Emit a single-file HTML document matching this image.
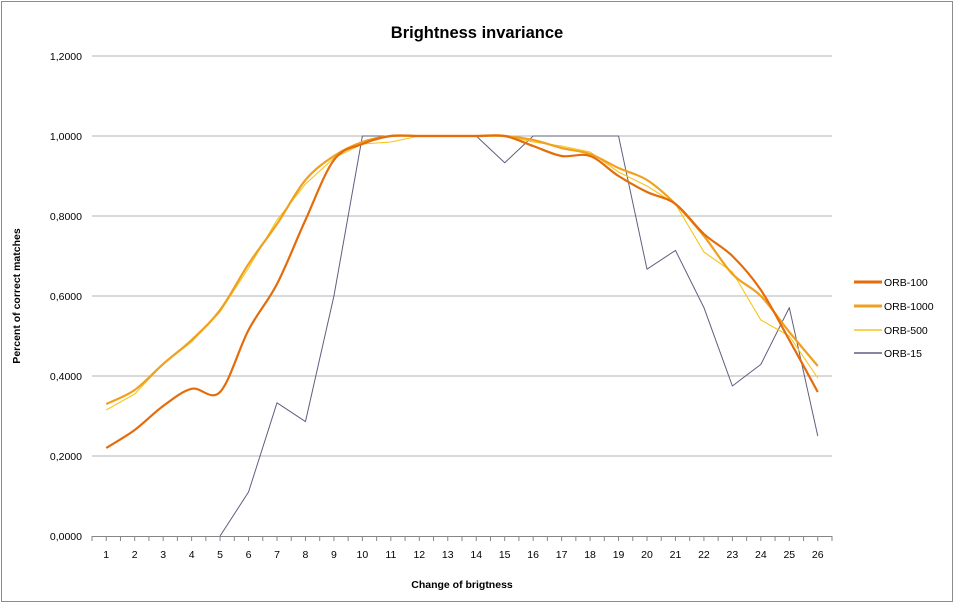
<!DOCTYPE html>
<html><head><meta charset="utf-8">
<style>
html,body{margin:0;padding:0;background:#fff;}
svg{display:block;font-family:"Liberation Sans",Arial,sans-serif;}
</style></head>
<body>
<svg id="chart" width="955" height="604" viewBox="0 0 955 604">
<rect x="1.5" y="1.5" width="951" height="600" fill="#fff" stroke="#8c8c8c"/>
<text x="477" y="38" text-anchor="middle" font-size="16.5" font-weight="bold" fill="#000">Brightness invariance</text>
<g id="grid"></g>
<g id="yticks"></g>
<g id="xaxis"></g>
<g id="series"></g>
<text x="20" y="296" text-anchor="middle" font-size="10.5" font-weight="bold" transform="rotate(-90 20 296)">Percent of correct matches</text>
<text x="462" y="588" text-anchor="middle" font-size="10.5" font-weight="bold">Change of brigtness</text>
<g id="legend"></g>
</svg>
<script>
const categories = [1,2,3,4,5,6,7,8,9,10,11,12,13,14,15,16,17,18,19,20,21,22,23,24,25,26];
const yTicks = [0,0.2,0.4,0.6,0.8,1.0,1.2];
const orb100 = [0.22,0.265,0.325,0.368,0.36,0.515,0.63,0.79,0.94,0.98,1.0,1.0,1.0,1.0,1.0,0.975,0.95,0.95,0.90,0.86,0.83,0.755,0.70,0.615,0.49,0.36];
const orb1000 = [0.33,0.365,0.43,0.49,0.565,0.68,0.78,0.89,0.95,0.985,1.0,1.0,1.0,1.0,1.0,0.99,0.97,0.955,0.92,0.89,0.83,0.75,0.655,0.60,0.51,0.425];
const orb500 = [0.315,0.355,0.43,0.485,0.56,0.67,0.79,0.88,0.945,0.98,0.985,1.0,1.0,1.0,1.0,0.985,0.975,0.96,0.91,0.875,0.83,0.71,0.66,0.54,0.50,0.395];
const orb15 = [null,null,null,null,0,0.11,0.333,0.286,0.6,1,1,1,1,1,0.933,1,1,1,1,0.667,0.714,0.571,0.375,0.429,0.571,0.25];
const seriesNames = ["ORB-100","ORB-1000","ORB-500","ORB-15"];

const NS="http://www.w3.org/2000/svg";
const L=92,R=832,T=56,B=536,yMax=1.2;
const step=(R-L)/categories.length;
function xS(i){return L+step*(i+0.5);}
function yS(v){return B-(v/yMax)*(B-T);}
function mk(tag,attrs,parent){const e=document.createElementNS(NS,tag);for(const k in attrs)e.setAttribute(k,attrs[k]);parent.appendChild(e);return e;}

const grid=document.getElementById('grid'), yt=document.getElementById('yticks');
yTicks.forEach(v=>{
  if(v>0){const g=mk('line',{x1:L,x2:R,y1:yS(v),y2:yS(v),stroke:'#b3b3b3','stroke-width':1},grid);
  
  }
  const t=mk('text',{x:82,y:yS(v)+4,'text-anchor':'end','font-size':10.5,fill:'#000'},yt);
  t.textContent=v.toFixed(4).replace('.',',');
  
  
});
const xa=document.getElementById('xaxis');
mk('line',{x1:L,x2:R,y1:B+0.5,y2:B+0.5,stroke:'#868686'},xa);
for(let k=0;k<=categories.length*2;k++){
  const x=L+k*step/2;
  mk('line',{x1:x,x2:x,y1:B,y2:B+5,stroke:'#868686'},xa);
}
categories.forEach((c,i)=>{
  const t=mk('text',{x:xS(i),y:B+22,'text-anchor':'middle','font-size':10.5},xa);
  t.textContent=c;
  
  
});

function smoothPath(vals){
  const p=vals.map((v,i)=>[xS(i),yS(v)]);
  let d='M'+p[0][0]+','+p[0][1];
  for(let i=0;i<p.length-1;i++){
    const p0=p[i-1]||p[i],p1=p[i],p2=p[i+1],p3=p[i+2]||p2;
    const c1=[p1[0]+(p2[0]-p0[0])/6,p1[1]+(p2[1]-p0[1])/6];
    const c2=[p2[0]-(p3[0]-p1[0])/6,p2[1]-(p3[1]-p1[1])/6];
    d+=' C'+c1+' '+c2+' '+p2;
  }
  return d;
}
function linePath(vals){
  let d='',pen=false;
  vals.forEach((v,i)=>{if(v===null){pen=false;return;}d+=(pen?' L':' M')+xS(i)+','+yS(v);pen=true;});
  return d;
}
const sg=document.getElementById('series');
const styles=[
  {vals:orb100,color:'#E46C0A',w:2.2,smooth:true,name:'series-orb-100'},
  {vals:orb1000,color:'#F0A020',w:2.2,smooth:true,name:'series-orb-1000'},
  {vals:orb500,color:'#F5C518',w:1.1,smooth:false,name:'series-orb-500'},
  {vals:orb15,color:'#5f5f80',w:1,smooth:false,name:'series-orb-15'}
];
[3,2,1,0].forEach(k=>{
  const s=styles[k];
  const p=mk('path',{d:s.smooth?smoothPath(s.vals):linePath(s.vals),fill:'none',stroke:s.color,'stroke-width':s.w,'stroke-linejoin':'round'},sg);
  
  
});
const lg=document.getElementById('legend');
const ly=[282,306,330,353];
styles.forEach((s,i)=>{
  mk('line',{x1:854,x2:882,y1:ly[i],y2:ly[i],stroke:s.color,'stroke-width':s.w<2?1.5:3},lg);
  const t=mk('text',{x:884,y:ly[i]+4,'font-size':10.5},lg);
  t.textContent=seriesNames[i];
  
  
});
</script>
</body></html>
